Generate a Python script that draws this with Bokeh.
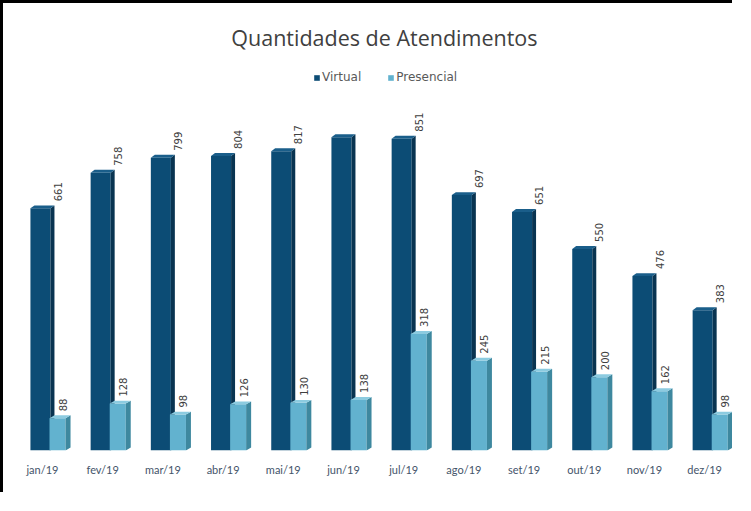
import numpy as np
from bokeh.plotting import figure
from bokeh.models import Range1d, FixedTicker, Label, Legend, LegendItem
from bokeh.core.properties import value
from bokeh.embed import file_html
from bokeh.resources import INLINE

months = ["jan/19", "fev/19", "mar/19", "abr/19", "mai/19", "jun/19",
          "jul/19", "ago/19", "set/19", "out/19", "nov/19", "dez/19"]
virtual = [661, 758, 799, 804, 817, 855, 851, 697, 651, 550, 476, 383]
presencial = [88, 128, 98, 126, 130, 138, 318, 245, 215, 200, 162, 98]
virtual_labels = ["661", "758", "799", "804", "817", "", "851", "697", "651", "550", "476", "383"]
presencial_labels = [str(v) for v in presencial]

V_FRONT, V_SIDE, V_TOP = "#0c4c75", "#093451", "#1a5e8a"
P_FRONT, P_SIDE, P_TOP = "#62b2cf", "#3e889f", "#8ccbe0"

x = np.arange(len(months))
vals_v = np.array(virtual, dtype=float)
vals_p = np.array(presencial, dtype=float)

p = figure(width=732, height=492, output_backend="svg", toolbar_location=None,
           x_range=Range1d(-0.7475, 11.412), y_range=Range1d(0, 1220),
           y_axis_location=None,
           min_border_left=0, min_border_right=0, min_border_top=0, min_border_bottom=45)
p.styles = {"border-left": "3px solid black", "border-top": "3px solid black"}
p.outline_line_color = None
p.xgrid.visible = False
p.ygrid.visible = False
p.background_fill_color = "white"

# depth of the 3D effect
dy = 8.0

# Virtual bars
vl, vr, vd = x - 0.30, x + 0.033, 0.066
vq = p.quad(left=vl, right=vr, bottom=0, top=vals_v, fill_color=V_FRONT, line_color=None)
p.patches(xs=[[r, r + vd, r + vd, r] for r in vr],
          ys=[[0, dy, v + dy, v] for v in vals_v],
          fill_color=V_SIDE, line_color=None)
p.patches(xs=[[l, l + vd, r + vd, r] for l, r in zip(vl, vr)],
          ys=[[v, v + dy, v + dy, v] for v in vals_v],
          fill_color=V_TOP, line_color=None)

# Presencial bars
pl, pr, pd = x + 0.017, x + 0.283, 0.083
pq = p.quad(left=pl, right=pr, bottom=0, top=vals_p, fill_color=P_FRONT, line_color=None)
p.patches(xs=[[r, r + pd, r + pd, r] for r in pr],
          ys=[[0, dy, v + dy, v] for v in vals_p],
          fill_color=P_SIDE, line_color=None)
p.patches(xs=[[l, l + pd, r + pd, r] for l, r in zip(pl, pr)],
          ys=[[v, v + dy, v + dy, v] for v in vals_p],
          fill_color=P_TOP, line_color=None)

# value labels (rotated)
p.text(x=x + 0.15, y=vals_v, text=virtual_labels, angle=np.pi / 2,
       text_align="left", text_baseline="middle", y_offset=-7,
       text_font=value("DejaVu Sans"), text_font_size="10px", text_color="#404040")
p.text(x=x + 0.24, y=vals_p, text=presencial_labels, angle=np.pi / 2,
       text_align="left", text_baseline="middle", y_offset=-7,
       text_font=value("DejaVu Sans"), text_font_size="10px", text_color="#404040")

# x axis
ticks = [float(i) - 0.1 for i in x]
p.xaxis.ticker = FixedTicker(ticks=ticks)
p.xaxis.major_label_overrides = {t: m for t, m in zip(ticks, months)}
p.xaxis.axis_line_color = None
p.xaxis.major_tick_line_color = None
p.xaxis.minor_tick_line_color = None
p.xaxis.major_label_standoff = 6
p.xaxis.major_label_text_font = "Lato"
p.xaxis.major_label_text_font_size = "11px"
p.xaxis.major_label_text_color = "#44546a"

# title
p.add_layout(Label(x=5.58, y=1127, text="Quantidades de Atendimentos",
                   text_align="center", text_baseline="middle",
                   text_font="Open Sans", text_font_size="21.5px", text_color="#404040"))

legend = Legend(items=[LegendItem(label="Virtual", renderers=[vq]),
                       LegendItem(label="Presencial", renderers=[pq])],
                orientation="horizontal", location=(310, 366),
                glyph_width=7, glyph_height=7, label_standoff=2, spacing=26,
                label_text_font="DejaVu Sans", label_text_font_size="12px",
                label_text_color="#595959", border_line_color=None,
                background_fill_alpha=0, padding=0, margin=0)
p.add_layout(legend)

open("out.html", "w").write(file_html(p, INLINE))
